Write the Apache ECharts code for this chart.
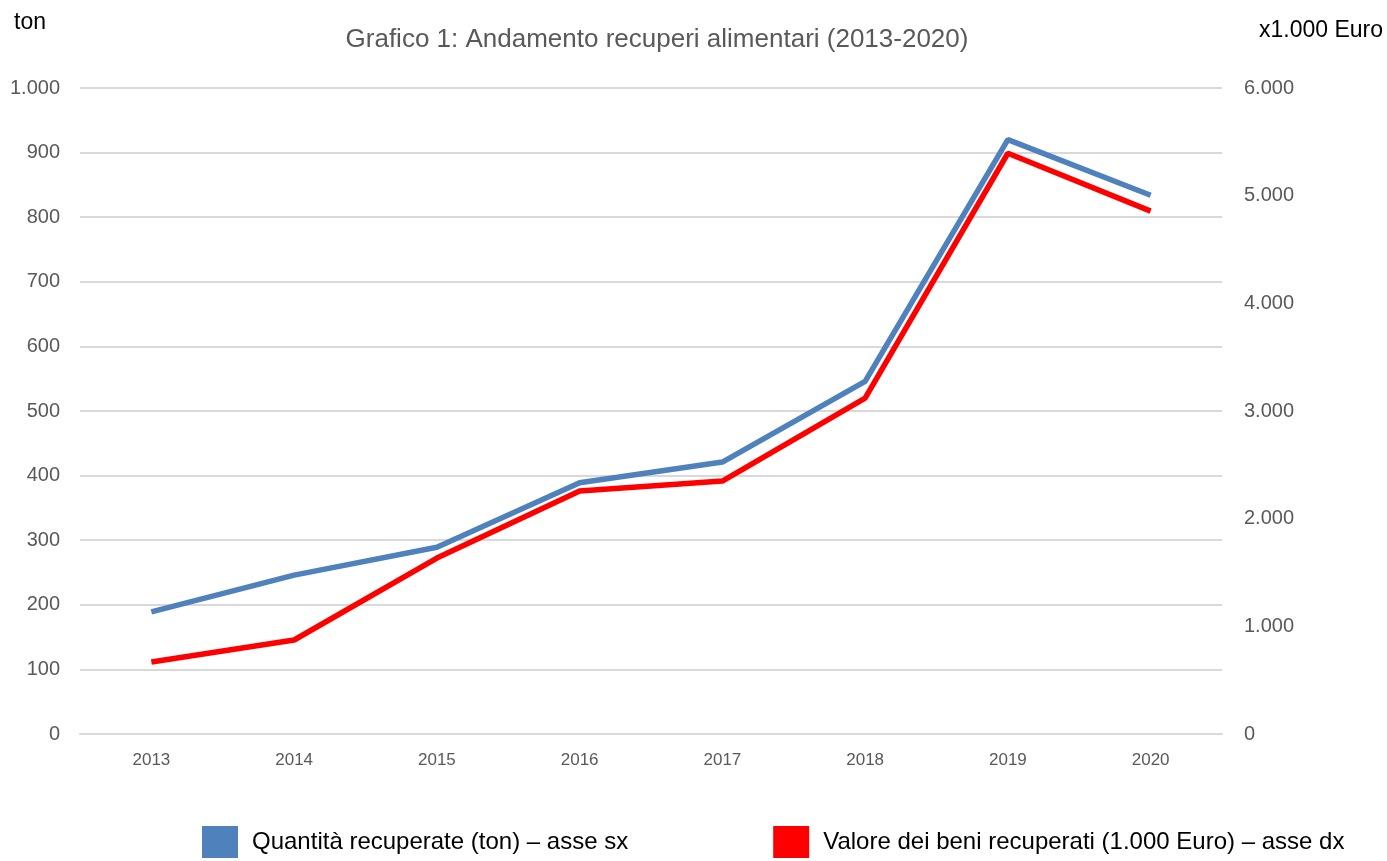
<!DOCTYPE html>
<html><head><meta charset="utf-8">
<script src="https://cdn.jsdelivr.net/npm/echarts@6/dist/echarts.min.js"></script>
<style>html,body{margin:0;padding:0;background:#fff}#c{width:1387px;height:861px}</style>
</head><body><div id="c"></div>
<script>
const years = ['2013','2014','2015','2016','2017','2018','2019','2020'];
const quantita = [189, 246, 289, 389, 421, 546, 920, 834];
const valore = [669, 873, 1634, 2256, 2349, 3120, 5394, 4856];
const leftTicks = {min: 0, max: 1000, interval: 100};
const rightTicks = {min: 0, max: 6000, interval: 1000};
const seriesNames = ['Quantità recuperate (ton) – asse sx', 'Valore dei beni recuperati (1.000 Euro) – asse dx'];

const FONT = '"Liberation Sans Narrow", "Arial Narrow", "Liberation Sans", sans-serif';
function fmt(v){ return String(v).replace(/\B(?=(\d{3})+(?!\d))/g, '.'); }

const chart = echarts.init(document.getElementById('c'));
chart.setOption({
  animation: false,
  textStyle: {fontFamily: FONT},
  title: {text: 'Grafico 1: Andamento recuperi alimentari (2013-2020)', left: 652, textAlign: 'center', top: 22,
    textStyle: {fontFamily: FONT, fontSize: 26, fontWeight: 'normal', color: '#595959'}},
  graphic: [
    {type: 'text', left: 14, top: 11, style: {text: 'ton', font: '23px ' + FONT, fill: '#000'}},
    {type: 'text', right: 4, top: 19, style: {text: 'x1.000 Euro', font: '23px ' + FONT, fill: '#000'}}
  ],
  legend: {bottom: -2, left: 197, itemWidth: 36, itemHeight: 32, itemGap: 145,
    icon: 'rect',
    textStyle: {fontFamily: FONT, fontSize: 24, color: '#000', padding: [0,0,0,9]},
    data: seriesNames},
  grid: {left: 80, right: 165, top: 88, bottom: 127, containLabel: false},
  xAxis: {type: 'category', data: years, boundaryGap: true,
    axisLine: {lineStyle: {color: '#d9d9d9', width: 2}}, axisTick: {show: false},
    axisLabel: {color: '#595959', fontSize: 17, margin: 18, fontFamily: FONT}},
  yAxis: [
    {type: 'value', min: leftTicks.min, max: leftTicks.max, interval: leftTicks.interval,
      axisLine: {show: false}, axisTick: {show: false},
      splitLine: {lineStyle: {color: '#d9d9d9', width: 2}},
      axisLabel: {color: '#595959', fontSize: 20, margin: 20, formatter: fmt, fontFamily: FONT}},
    {type: 'value', min: rightTicks.min, max: rightTicks.max, interval: rightTicks.interval,
      axisLine: {show: false}, axisTick: {show: false}, splitLine: {show: false},
      axisLabel: {color: '#595959', fontSize: 20, margin: 22, formatter: fmt, fontFamily: FONT}}
  ],
  series: [
    {name: seriesNames[0], type: 'line', yAxisIndex: 0, data: quantita, showSymbol: false, symbol: 'none',
      lineStyle: {color: '#4f81bd', width: 5.5}, itemStyle: {color: '#4f81bd'}, z: 3},
    {name: seriesNames[1], type: 'line', yAxisIndex: 1, data: valore, showSymbol: false, symbol: 'none',
      lineStyle: {color: '#ff0000', width: 5.5}, itemStyle: {color: '#ff0000'}, z: 2}
  ]
});
</script></body></html>
